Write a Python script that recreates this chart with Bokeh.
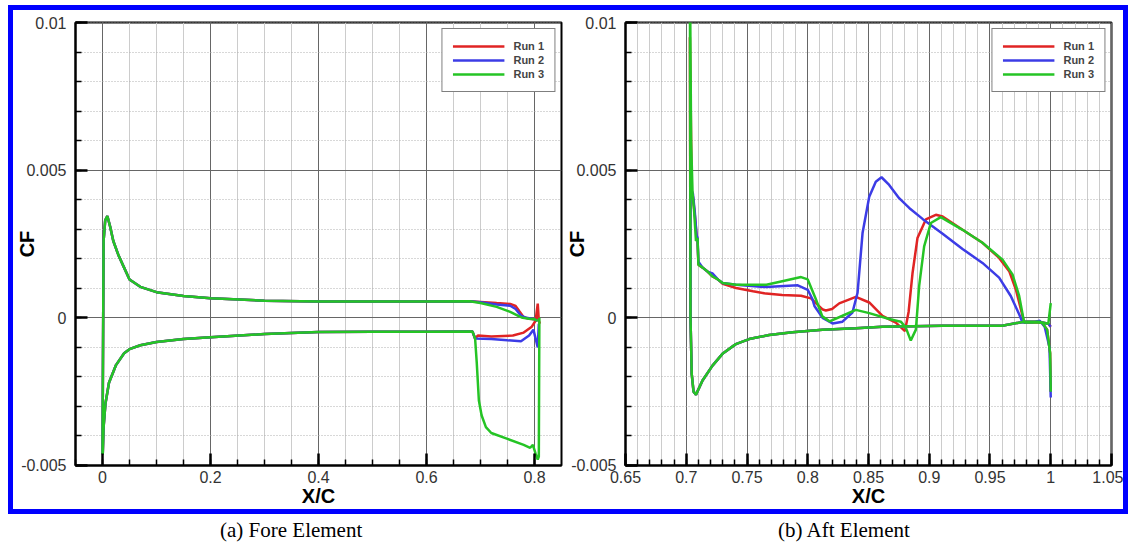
from bokeh.plotting import figure
from bokeh.layouts import row, column
from bokeh.models import (SingleIntervalTicker, CustomJSTickFormatter, Legend, LegendItem,
                          Range1d, Div, Spacer)
from bokeh.embed import file_html
from bokeh.resources import INLINE

RUN_LABELS = ["Run 1", "Run 2", "Run 3"]
RUN_COLORS = ["#E02424", "#3C3CE6", "#25C425"]
CAPTIONS = ["(a) Fore Element", "(b) Aft Element"]

# ---------------- Fore element (left panel) ----------------
fore_upper_le_x = [0.0, 0.002, 0.005, 0.009, 0.014, 0.02, 0.03, 0.04, 0.05, 0.07, 0.1, 0.15,
                   0.2, 0.3, 0.4, 0.5, 0.6, 0.68]
fore_upper_le_cf = [-0.0046, 0.0026, 0.0033, 0.00345, 0.0031, 0.0026, 0.0021, 0.0017, 0.0013,
                    0.00105, 0.00087, 0.00074, 0.00066, 0.00058, 0.00055, 0.00055, 0.00055, 0.00056]
fore_upper_te_x = [
    [0.70, 0.73, 0.755, 0.765, 0.772, 0.78, 0.79, 0.80, 0.806],
    [0.70, 0.73, 0.755, 0.765, 0.775, 0.785, 0.80, 0.806],
    [0.70, 0.73, 0.755, 0.77, 0.778, 0.79, 0.80, 0.806],
]
fore_upper_te_cf = [
    [0.00054, 0.0005, 0.00047, 0.0004, 0.00022, 0.00002, -0.00003, -0.00005, 0.0],
    [0.00053, 0.00045, 0.00041, 0.0003, 0.00007, 0.0, -0.00005, -0.0001],
    [0.0005, 0.00037, 0.0002, 0.00007, 0.0, -0.00003, -0.00005, -0.0001],
]
fore_lower_le_x = [0.0005, 0.002, 0.0055, 0.012, 0.025, 0.04, 0.05, 0.07, 0.1, 0.15, 0.2, 0.3,
                   0.4, 0.5, 0.6, 0.685]
fore_lower_le_cf = [-0.0046, -0.0037, -0.0029, -0.0022, -0.0016, -0.0012, -0.00106, -0.00093,
                    -0.00082, -0.00072, -0.00066, -0.00055, -0.00048, -0.00047, -0.00047, -0.00046]
fore_lower_te_x = [
    [0.69, 0.695, 0.72, 0.76, 0.78, 0.795, 0.802, 0.806, 0.808, 0.81],
    [0.69, 0.72, 0.75, 0.775, 0.79, 0.798, 0.802, 0.806, 0.808],
    [0.69, 0.693, 0.697, 0.702, 0.71, 0.72, 0.75, 0.78, 0.792, 0.797, 0.802, 0.806, 0.808, 0.809],
]
fore_lower_te_cf = [
    [-0.0007, -0.0006, -0.00063, -0.0006, -0.0005, -0.0003, -0.0001, 0.00048, -0.0001, -0.0002],
    [-0.0007, -0.00072, -0.00076, -0.00079, -0.0006, -0.0004, -0.0007, -0.001, -0.0002],
    [-0.0007, -0.0015, -0.0028, -0.0033, -0.0037, -0.0039, -0.0041, -0.0043, -0.0044, -0.0043,
     -0.0046, -0.0048, -0.0047, 0.0],
]

# ---------------- Aft element (right panel) ----------------
aft_lower_x = [0.7035, 0.7045, 0.706, 0.708, 0.7134, 0.7216, 0.7298, 0.7408, 0.7518, 0.7682,
               0.7874, 0.8121, 0.8395, 0.8615, 0.911, 0.96, 0.978, 0.99, 0.998]
aft_lower_cf = [0.0, -0.0019, -0.0025, -0.0026, -0.00212, -0.00162, -0.00122, -0.00089, -0.00072,
                -0.00058, -0.00049, -0.0004, -0.00035, -0.0003, -0.00027, -0.00027, -0.00013,
                -0.00013, -0.0002]
aft_te_x = 1.0
aft_lower_te_cf = [-0.0003, -0.0003, 0.0005]

aft_upper_x = [
    [0.7030, 0.7045, 0.7055, 0.707, 0.7085, 0.7093, 0.710, 0.7135, 0.718, 0.7217, 0.726, 0.730,
     0.741, 0.755, 0.7657, 0.779, 0.7945, 0.8027, 0.8067, 0.8124, 0.8149, 0.82, 0.8259, 0.8396,
     0.8506, 0.8615, 0.8725, 0.880, 0.883, 0.8862, 0.8903, 0.8972, 0.9054, 0.911, 0.9274, 0.9438,
     0.9575, 0.9658, 0.9713, 0.9754, 0.9781, 0.985, 0.993, 0.997, 0.9995, 1.0],
    [0.7035, 0.7045, 0.7055, 0.707, 0.7085, 0.7093, 0.710, 0.7135, 0.718, 0.7217, 0.726, 0.730,
     0.741, 0.7657, 0.7918, 0.80, 0.8039, 0.8055, 0.8122, 0.8204, 0.8286, 0.8368, 0.841, 0.8451,
     0.8506, 0.856, 0.8607, 0.867, 0.8752, 0.8835, 0.8945, 0.911, 0.9274, 0.9438, 0.9575, 0.9671,
     0.974, 0.9768, 0.985, 0.991, 0.995, 0.999, 1.0],
    [0.7030, 0.7040, 0.7052, 0.7065, 0.708, 0.7093, 0.710, 0.7135, 0.718, 0.7217, 0.726, 0.730,
     0.741, 0.766, 0.779, 0.7945, 0.80, 0.8067, 0.812, 0.818, 0.8286, 0.8396, 0.8506, 0.867,
     0.8766, 0.8807, 0.8848, 0.889, 0.8917, 0.8958, 0.9013, 0.9095, 0.9274, 0.9438, 0.9603,
     0.9685, 0.974, 0.9781, 0.985, 0.993, 0.997, 0.9995, 1.0],
]
aft_upper_cf = [
    [0.0095, 0.0043, 0.0041, 0.0035, 0.0028, 0.0026, 0.0018, 0.0017, 0.00155, 0.0014, 0.0013,
     0.00115, 0.00101, 0.0009, 0.00082, 0.00077, 0.00075, 0.00066, 0.0005, 0.00028, 0.00025,
     0.0003, 0.00049, 0.00071, 0.00052, 0.00007, -0.00016, -0.00045, 0.0002, 0.0015, 0.0027,
     0.00333, 0.00349, 0.00343, 0.00298, 0.00254, 0.00203, 0.00158, 0.00096, 0.00029, -0.00016,
     -0.00015, -0.00017, -0.0004, -0.0012, -0.0025],
    [0.0055, 0.0043, 0.0042, 0.0036, 0.0028, 0.0027, 0.0019, 0.0017, 0.00155, 0.0015, 0.0013,
     0.00118, 0.00112, 0.00104, 0.0011, 0.00095, 0.00063, 0.0004, 0.0, -0.00019, -0.00013,
     0.00018, 0.00085, 0.00287, 0.0041, 0.00461, 0.00476, 0.0045, 0.00405, 0.00372, 0.00335,
     0.00285, 0.00233, 0.00186, 0.00136, 0.00074, 0.00012, -0.00016, -0.00015, -0.0001, -0.0003,
     -0.001, -0.0027],
    [0.012, 0.006, 0.0042, 0.0036, 0.0026, 0.0027, 0.0018, 0.0017, 0.00155, 0.0014, 0.0013,
     0.00118, 0.00112, 0.00112, 0.00124, 0.00138, 0.0013, 0.00063, 0.00005, -0.00012, 0.00007,
     0.00027, 0.00016, -0.00004, -0.00013, -0.00033, -0.00077, -0.0004, 0.00108, 0.00242,
     0.00321, 0.00341, 0.00298, 0.00254, 0.00197, 0.00147, 0.00074, -0.00016, -0.00015,
     -0.00017, -0.0004, -0.0012, -0.0025],
]

SANS = "Liberation Sans"
SERIF = "Liberation Serif"
BLUE = "#0000FF"


def style(p, xticker, xfmt):
    p.background_fill_color = "white"
    p.border_fill_color = "white"
    p.outline_line_color = "black"
    p.outline_line_width = 2
    p.xaxis.ticker = xticker
    p.yaxis.ticker = SingleIntervalTicker(interval=0.005, num_minor_ticks=5)
    p.xaxis.formatter = CustomJSTickFormatter(code=xfmt)
    p.yaxis.formatter = CustomJSTickFormatter(code="return Number(tick.toFixed(3)).toString();")
    for ax in (p.xaxis[0], p.yaxis[0]):
        ax.axis_line_color = "black"
        ax.axis_line_width = 2
        ax.major_tick_in = 12
        ax.major_tick_out = 0
        ax.minor_tick_in = 6
        ax.minor_tick_out = 0
        ax.major_tick_line_width = 2.5
        ax.minor_tick_line_width = 1.5
        ax.major_tick_line_color = "black"
        ax.minor_tick_line_color = "black"
        ax.major_label_text_font = SANS
        ax.major_label_text_font_size = "16px"
        ax.major_label_text_color = "#333333"
        ax.axis_label_text_font = SANS
        ax.axis_label_text_font_style = "bold"
        ax.axis_label_text_font_size = "20px"
        ax.axis_label_text_color = "black"
    p.yaxis.major_label_standoff = 9
    p.xaxis.major_label_standoff = 5
    p.xaxis.axis_label = "X/C"
    p.xaxis.axis_label_standoff = -1
    p.yaxis.axis_label = "CF"
    p.yaxis.axis_label_standoff = -20
    p.xgrid.grid_line_color = "#666666"
    p.ygrid.grid_line_color = "#666666"
    p.xgrid.grid_line_width = 1
    p.ygrid.grid_line_width = 1
    p.xgrid.minor_grid_line_color = "#cccccc"
    p.xgrid.minor_grid_line_width = 1
    p.ygrid.minor_grid_line_color = "#b0b0b0"
    p.ygrid.minor_grid_line_dash = "1 2"
    p.ygrid.minor_grid_line_width = 1


def add_legend(p, renderers):
    legend = Legend(items=[LegendItem(label=l, renderers=[r]) for l, r in zip(RUN_LABELS, renderers)],
                    location="top_right")
    legend.border_line_color = "black"
    legend.border_line_width = 1
    legend.background_fill_color = "white"
    legend.background_fill_alpha = 1
    legend.label_text_font = SANS
    legend.label_text_font_style = "bold"
    legend.label_text_font_size = "11px"
    legend.glyph_width = 52
    legend.glyph_height = 14
    legend.label_height = 14
    legend.label_standoff = 9
    legend.padding = 10
    legend.spacing = 0
    legend.margin = 6
    p.add_layout(legend)


# ---------------- left figure ----------------
p1 = figure(width=550, height=499, x_range=Range1d(-0.05, 0.85),
            y_range=Range1d(-0.0050001, 0.0100001),
            output_backend="svg", toolbar_location=None,
            min_border_left=60, min_border_right=2, min_border_top=12, min_border_bottom=42)
style(p1, SingleIntervalTicker(interval=0.2, num_minor_ticks=4),
      "return Number(tick.toFixed(2)).toString();")
r1 = []
for i in range(3):
    xs = list(reversed(fore_upper_le_x + fore_upper_te_x[i])) + fore_lower_le_x + fore_lower_te_x[i]
    ys = list(reversed(fore_upper_le_cf + fore_upper_te_cf[i])) + fore_lower_le_cf + fore_lower_te_cf[i]
    r1.append(p1.line(xs, ys, line_color=RUN_COLORS[i], line_width=2.5))
add_legend(p1, r1)

# ---------------- right figure ----------------
p2 = figure(width=560, height=499, x_range=Range1d(0.6499999, 1.0500001),
            y_range=Range1d(-0.0050001, 0.0100001),
            output_backend="svg", toolbar_location=None,
            min_border_left=60, min_border_right=12, min_border_top=12, min_border_bottom=42)
style(p2, SingleIntervalTicker(interval=0.05, num_minor_ticks=5),
      "return Number(tick.toFixed(2)).toString();")
r2 = []
for i in range(3):
    xs = [aft_te_x] + list(reversed(aft_lower_x)) + aft_upper_x[i]
    ys = [aft_lower_te_cf[i]] + list(reversed(aft_lower_cf)) + aft_upper_cf[i]
    r2.append(p2.line(xs, ys, line_color=RUN_COLORS[i], line_width=2.5))
add_legend(p2, r2)


# ---------------- page: blue frame and captions ----------------
def bar(w, h):
    return Div(text="", width=w, height=h, margin=0, styles={"background-color": BLUE})


def caption(text, w):
    return Div(text=text, width=w, height=28, margin=0,
               styles={"font-family": SERIF, "font-size": "21px", "line-height": "32px",
                       "color": "black", "white-space": "nowrap"})


layout = column(
    Spacer(height=5, width=1130, margin=0),
    row(Spacer(width=8, height=5, margin=0), bar(1120, 5)),
    row(Spacer(width=8, height=499, margin=0), bar(5, 499), p1, p2, bar(5, 499)),
    row(Spacer(width=8, height=5, margin=0), bar(1120, 5)),
    row(Spacer(width=220, height=28, margin=0), caption(CAPTIONS[0], 340),
        Spacer(width=218, height=28, margin=0), caption(CAPTIONS[1], 300)),
)
open("out.html", "w").write(file_html(layout, INLINE))
